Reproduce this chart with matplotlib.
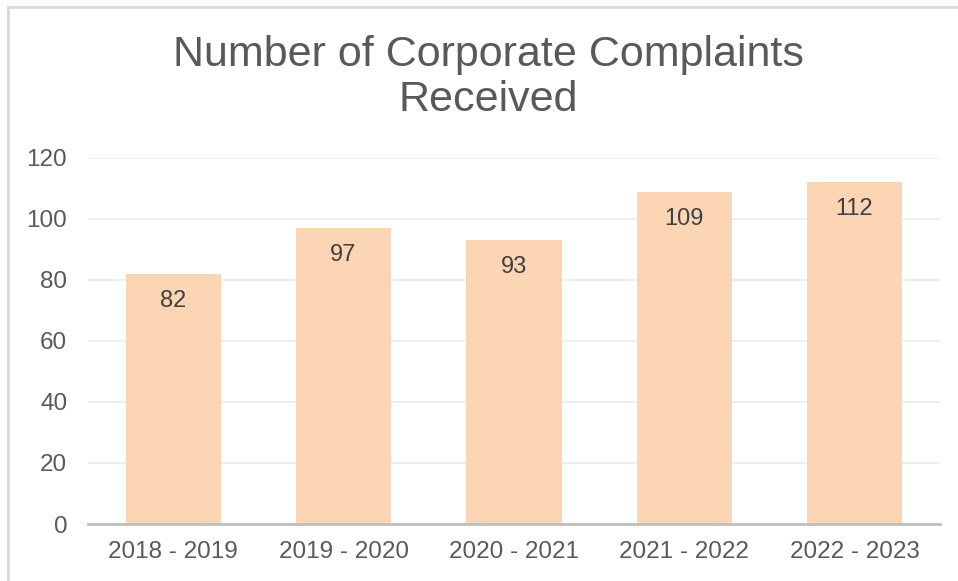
import matplotlib.pyplot as plt
from matplotlib.lines import Line2D

periodos = ['2018 - 2019', '2019 - 2020', '2020 - 2021', '2021 - 2022', '2022 - 2023']
reclamacoes = [82, 97, 93, 109, 112]
y_ticks = [0, 20, 40, 60, 80, 100, 120]

plt.rcParams['font.family'] = ['Liberation Sans', 'DejaVu Sans']

fig = plt.figure(figsize=(9.58, 5.81), dpi=100)
ax = fig.add_axes([0.0919, 0.0981, 0.889, 0.630])

barras = ax.bar(periodos, reclamacoes, width=0.56, color='#FCD5B4', zorder=2)
for b, v in zip(barras, reclamacoes):
    ax.annotate(str(v), (b.get_x() + b.get_width() / 2, v),
                xytext=(0, -19.5), textcoords='offset points',
                ha='center', va='center', fontsize=17, color='#404040')

ax.set_ylim(0, 120)
ax.set_xlim(-0.5, 4.5)
ax.set_yticks(y_ticks)
ax.grid(axis='y', color='#EBEBEB', linewidth=1.2, zorder=0)
for s in ['top', 'right', 'left']:
    ax.spines[s].set_visible(False)
ax.spines['bottom'].set_color('#BFBFBF')
ax.spines['bottom'].set_linewidth(2)
ax.spines['bottom'].set_zorder(3)
ax.tick_params(axis='both', length=0, labelsize=17.5, labelcolor='#595959')
ax.tick_params(axis='y', pad=15)
ax.tick_params(axis='x', pad=12)

fig.text(0.51, 0.867, 'Number of Corporate Complaints\nReceived', ha='center',
         va='center', fontsize=31, color='#595959', linespacing=1.16)

# borda do quadro (so topo e esquerda aparecem no recorte)
fig.add_artist(Line2D([8 / 958, 1], [1 - 7 / 581, 1 - 7 / 581],
                      transform=fig.transFigure, color='#D9D9D9', linewidth=2))
fig.add_artist(Line2D([8 / 958, 8 / 958], [0, 1 - 7 / 581],
                      transform=fig.transFigure, color='#D9D9D9', linewidth=2))

plt.savefig('out.png', dpi=100)
